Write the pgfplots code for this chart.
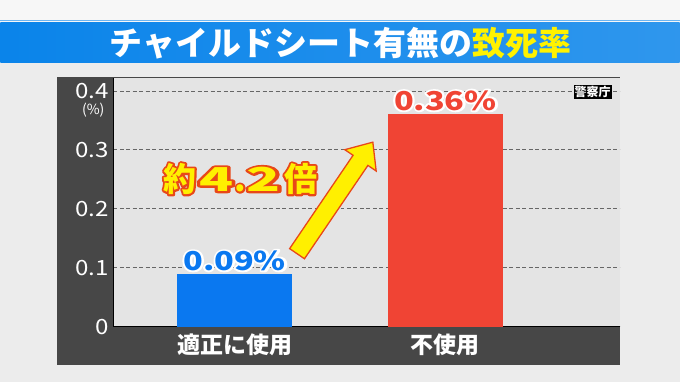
\documentclass[border=0pt]{standalone}
\usepackage{pgfplots}
\pgfplotsset{compat=1.18}
\usetikzlibrary{calc}
\usepackage{fontspec}
\setmainfont{Noto Sans CJK JP}
\newfontfamily\jp{Noto Sans CJK JP}
\definecolor{bgc}{HTML}{ECECEC}
\definecolor{panel}{HTML}{474747}
\definecolor{plotbg}{HTML}{E4E4E4}
\definecolor{barblue}{HTML}{0A78F0}
\definecolor{barred}{HTML}{F04434}
\definecolor{titleblue}{HTML}{0A84EA}
\definecolor{ttlyellow}{HTML}{FFF200}
\definecolor{arrred}{HTML}{E84818}
\definecolor{arryel}{HTML}{FFF000}
\newcommand{\otext}[4]{% outline colour, fill colour, stroke width, text
  \rlap{\color{#1}\special{pdf:code 2 Tr #3 w 1 j}#4\special{pdf:code 0 Tr}}\textcolor{#2}{#4}}
\newcommand{\widen}[1]{\scalebox{1.15}[1]{#1}}
\begin{document}
\begin{tikzpicture}[x=1pt,y=1pt]
\fill[bgc] (0,0) rectangle (680,382);
\fill[white!60!bgc] (0,319) rectangle (680,382);
\draw[titleblue!60, line width=0.8pt] (0,362) -- (680,362);
\shade[left color=titleblue, right color=titleblue!85!white] (0,319) rectangle (680,359);
\node[text=white, font=\jp\bfseries\fontsize{33}{36}\selectfont] at (340.5,339) {チャイルドシート有無の\textcolor{ttlyellow}{致死率}};
\fill[panel] (57,17) rectangle (620,305);
\begin{axis}[
  at={(113pt,55pt)}, anchor=south west,
  scale only axis, width=507pt, height=249pt,
  xmin=-0.576, xmax=1.827, ymin=0, ymax=0.422,
  axis background/.style={fill=plotbg},
  axis x line*=bottom, axis y line*=left,
  axis line style={black, line width=1.4pt, -},
  ytick={0,0.1,0.2,0.3,0.4},
  yticklabels={\widen{0},\widen{0.1},\widen{0.2},\widen{0.3},\widen{0.4}},
  xtick={0,1},
  xticklabels={適正に使用,不使用},
  major tick length=0pt,
  ymajorgrids, grid style={dash pattern=on 4pt off 2.5pt, gray!80!black, line width=0.7pt},
  yticklabel style={text=white, font=\jp\fontsize{21}{23}\selectfont, xshift=-1pt},
  xticklabel style={text=white, font=\jp\bfseries\fontsize{23}{25}\selectfont, yshift=-4pt},
  /pgf/number format/assume math mode=true,
  bar width=0.545, clip=false,
]
\addplot[ybar, fill=barblue, draw=none] coordinates {(0,0.09)};
\addplot[ybar, fill=barred, draw=none] coordinates {(1,0.36)};
\coordinate (la) at (axis cs:0,0.09);
\coordinate (lb) at (axis cs:1,0.36);
\end{axis}
\node[text=white, inner sep=0pt, font=\jp\fontsize{14}{15}\selectfont] at (93,272) {(\%)};
\node[inner sep=0pt, font=\jp\bfseries\fontsize{26}{28}\selectfont] at ($(la)+(0,13)$) {\scalebox{1.25}[1]{\otext{white}{barblue}{3.6}{0.09\%}}};
\node[inner sep=0pt, font=\jp\bfseries\fontsize{26}{28}\selectfont] at ($(lb)+(0,14)$) {\scalebox{1.25}[1]{\otext{white}{barred}{3.6}{0.36\%}}};
\node[inner sep=0pt, font=\jp\bfseries\fontsize{33}{35}\selectfont] at (240,203)
  {\otext{arrred}{arryel}{4}{約\hspace{3pt}\scalebox{1.7}[1]{4}\hspace{1pt}.\hspace{1pt}\scalebox{1.7}[1]{2}\hspace{3pt}倍}};
\begin{scope}[shift={(297,128)}, rotate=55.8]
\filldraw[fill=arryel, draw=arrred, line width=1.3pt, line join=miter]
  (0,-9) -- (113,-9) -- (113,-19) -- (135,0) -- (113,19) -- (113,9) -- (0,9) -- cycle;
\end{scope}
\node[fill=black, text=white, inner sep=1.2pt, font=\jp\bfseries\fontsize{12}{13}\selectfont] at (593,290) {警察庁};
\end{tikzpicture}
\end{document}
